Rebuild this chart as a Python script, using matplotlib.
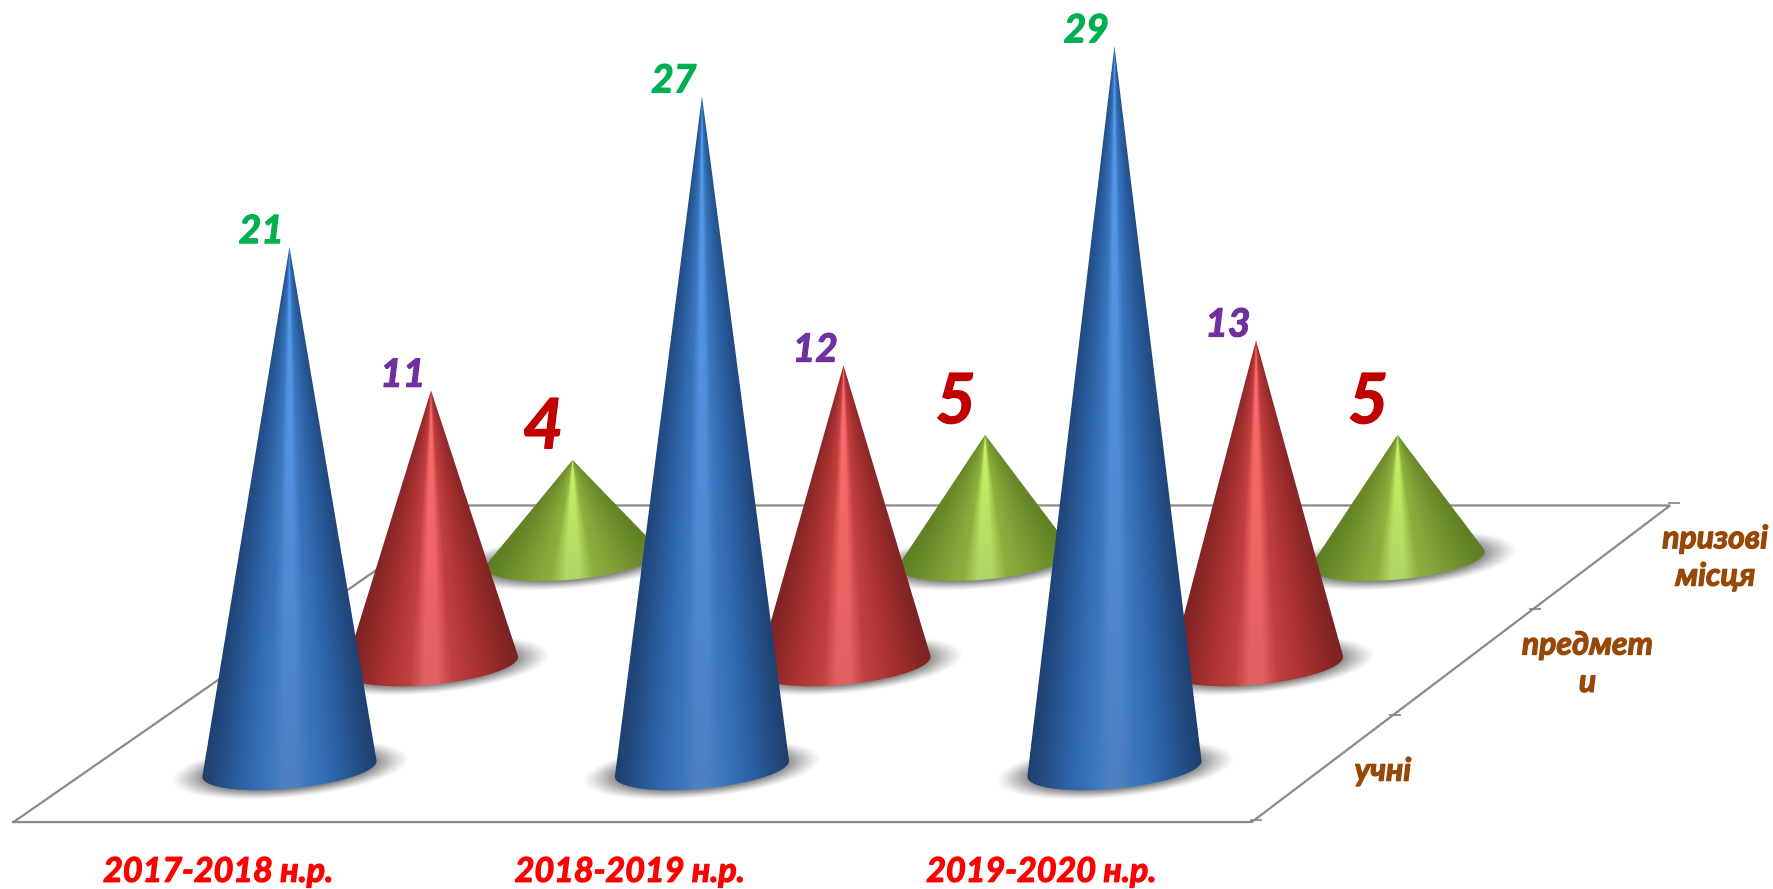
import numpy as np
import matplotlib
matplotlib.use("Agg")
import matplotlib.pyplot as plt
import matplotlib.patheffects as pe

# chart data
years = ['2017-2018 н.р.', '2018-2019 н.р.', '2019-2020 н.р.']
rows = ['учні', 'предмет\nи', 'призові\nмісця']
pupils = [21, 27, 29]
subjects = [11, 12, 13]
prizes = [4, 5, 5]

plt.rcParams['font.family'] = ['Lato', 'DejaVu Sans']

W, H = 1773, 889
fig = plt.figure(figsize=(W / 100, H / 100), dpi=100, facecolor='white')
ax = fig.add_axes([0, 0, 1, 1])
ax.set_axis_off()

# reference was measured on a 1568 wide view
S = W / 1568

# projection of the fake 3D floor
COL_X = 256 * S
COL_STEP = 364.8 * S
ROW_STEP_X = 125.2 * S
ROW_Y = [686 * S, 591 * S, 497 * S]
BASE_LIFT = [6 * S, 3 * S, 2 * S]
UNIT = 22.2 * S
A = 77 * S     # base half width
B = 17.5 * S   # base half height
SKEW = 7 * S   # base ellipse is sheared along the floor


def project(col, row, value=0):
    return COL_X + col * COL_STEP + row * ROW_STEP_X, ROW_Y[row] - value * UNIT


# shading stops: position across the cone, -1 left edge, 1 right edge
stops = [-1, -0.55, -0.25, -0.08, 0.08, 0.25, 0.55, 1]
palette = {
    0: {'edge': '#1d3f6e', 'mid': '#2c63a7', 'shoulder': '#3a76bd',
        'top': '#559cf0', 'bottom': '#4c80c2'},
    1: {'edge': '#7a2222', 'mid': '#aa3232', 'shoulder': '#c04040',
        'top': '#ff6c6c', 'bottom': '#e06060'},
    2: {'edge': '#5c7d22', 'mid': '#7c9c34', 'shoulder': '#8fb03f',
        'top': '#c8f562', 'bottom': '#afd465'},
}


def hex_rgb(c):
    return np.array(matplotlib.colors.to_rgb(c))


def shade(row, t, v):
    # t and v are arrays, returns an rgb array
    p = palette[row]
    out = np.zeros(t.shape + (3,))
    for k in range(3):
        edge0, edge1 = hex_rgb(p['edge'])[k], 0.5 * (hex_rgb(p['edge'])[k] + hex_rgb(p['mid'])[k])
        hi0, hi1 = hex_rgb(p['bottom'])[k], hex_rgb(p['top'])[k]
        base = np.interp(t, stops, [0, hex_rgb(p['mid'])[k], hex_rgb(p['shoulder'])[k], 0, 0,
                                    hex_rgb(p['shoulder'])[k], hex_rgb(p['mid'])[k], 0])
        w_edge = np.interp(np.abs(t), [0.55, 1], [0, 1])
        w_hi = np.interp(np.abs(t), [0.08, 0.25], [1, 0])
        out[..., k] = base + w_edge * (edge0 + (edge1 - edge0) * v) + w_hi * (hi0 + (hi1 - hi0) * v)
    return out


def draw_shadow(x, y):
    # soft grey patch under the base
    a, b = 106 * S, 25 * S
    xs = np.linspace(x - a, x + a, 240)
    ys = np.linspace(y - b - 10, y + b + 10, 100)
    gx, gy = np.meshgrid(xs, ys)
    dx = gx - x
    dy = gy - y - 1 * S + SKEW * dx / A
    d = np.sqrt((dx / a) ** 2 + (dy / b) ** 2)
    img = np.zeros(gx.shape + (4,))
    img[..., :3] = 0.25
    img[..., 3] = 0.62 * np.clip((1 - d) / 0.3, 0, 1) ** 1.2
    ax.imshow(img, extent=[xs[0], xs[-1], ys[-1], ys[0]], aspect='auto', interpolation='bilinear', zorder=3)


def draw_cone(col, row, value, z):
    x, y = project(col, row)
    # the tip fades out when antialiased, so it starts a little higher
    y_top = project(col, row, value)[1] - 1.5 * S
    yc = y - BASE_LIFT[row]
    draw_shadow(x, yc)

    # pixel window of this cone, sampled 4x and averaged for soft edges
    ss = 4
    x0, x1 = int(x - A - 3), int(x + A + 4)
    y0, y1 = int(y_top - 3), int(yc + 30 * S)
    xs = x0 + (np.arange((x1 - x0) * ss) + 0.5) / ss
    ys = y0 + (np.arange((y1 - y0) * ss) + 0.5) / ss
    gx, gy = np.meshgrid(xs, ys)

    # undo the shear, then solve for the front surface of the cone
    c = (gx - x) / A
    h = yc - y_top
    w = gy - yc + SKEW * c + h
    disc = (w * h) ** 2 - (h ** 2 - B ** 2) * (w ** 2 + (c * B) ** 2)
    r = (w * h - np.sqrt(np.maximum(disc, 0))) / (h ** 2 - B ** 2)
    mask = (disc >= 0) & (w > 0) & (r <= 1)
    t = np.clip(c / np.maximum(r, 1e-6), -1, 1)
    v = np.clip(1 - r, 0, 1)
    rgb = shade(row, t, v) * mask[..., None]

    # box average, colours premultiplied by the mask
    ny, nx = mask.shape[0] // ss, mask.shape[1] // ss
    alpha = mask.reshape(ny, ss, nx, ss).mean(axis=(1, 3))
    rgb = rgb.reshape(ny, ss, nx, ss, 3).mean(axis=(1, 3))
    img = np.dstack([rgb / np.maximum(alpha, 1e-6)[..., None], alpha])
    ax.imshow(np.clip(img, 0, 1), extent=[x0, x1, y1, y0], aspect='auto', interpolation='nearest', zorder=z)


def put_text(x, y, s, color, size, **kw):
    t = ax.text(x, y, s, color=color, fontsize=size, fontweight='bold', fontstyle='italic',
                ha='center', va='center', zorder=10, **kw)
    # makes the text as heavy as the original
    t.set_path_effects([pe.withStroke(linewidth=0.9, foreground=color)])
    return t


# floor outline
corner_fl = (12 * S, 727 * S)
corner_fr = (1107 * S, 727 * S)
corner_br = (1477 * S, 447 * S)
corner_bl = (415 * S, 447 * S)
fx, fy = zip(corner_fl, corner_fr, corner_br, corner_bl, corner_fl)
ax.plot(fx, fy, color='#8a8a8a', lw=1.6, zorder=1, solid_joinstyle='miter')

# small ticks on the depth axis
for i in range(4):
    f = i / 3
    tx = corner_fr[0] + (corner_br[0] - corner_fr[0]) * f
    ty = corner_fr[1] + (corner_br[1] - corner_fr[1]) * f
    ax.plot([tx - 1, tx + 9], [ty - 2, ty - 2], color='#8a8a8a', lw=1.3, zorder=1)

# back rows first so the front cones cover them
series = [pupils, subjects, prizes]
for row in (2, 1, 0):
    for col, val in enumerate(series[row]):
        draw_cone(col, row, val, 5 + (2 - row))

# value labels
label_style = [
    dict(color='#00b050', fontsize=28, dx=-25, dy=-15),
    dict(color='#7030a0', fontsize=28, dx=-25, dy=-15),
    dict(color='#c00000', fontsize=50, dx=-26, dy=-29),
]
for row in range(3):
    st = label_style[row]
    for col, val in enumerate(series[row]):
        x, y = project(col, row, val)
        put_text(x + st['dx'] * S, y + st['dy'] * S, str(val), st['color'], st['fontsize'])

# category labels
for i, name in enumerate(years):
    put_text((193 + i * 364) * S, 771 * S, name, '#ff0000', 24.5)

# row labels
row_pos = [(1223, 682), (1404, 587), (1517, 493)]
for name, (px, py) in zip(rows, row_pos):
    put_text(px * S, py * S, name, '#984806', 23, multialignment='center', linespacing=1.35)

ax.set_xlim(0, W)
ax.set_ylim(H, 0)

fig.savefig('out.png', dpi=100)
